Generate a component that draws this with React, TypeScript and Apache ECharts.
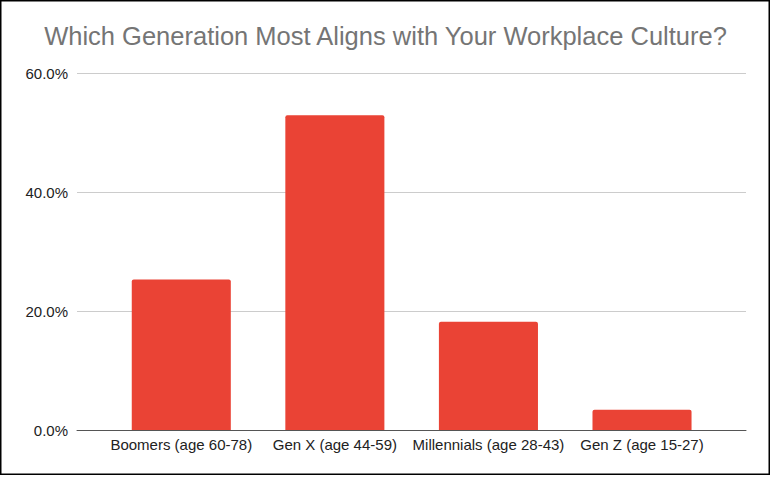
import React, { useEffect, useRef } from "react";
import * as echarts from "echarts";

const titleText = "Which Generation Most Aligns with Your Workplace Culture?";
const categories = [
  "Boomers (age 60-78)",
  "Gen X (age 44-59)",
  "Millennials (age 28-43)",
  "Gen Z (age 15-27)",
];
const shares = [0.253, 0.529, 0.182, 0.034];
const yMin = 0;
const yMax = 0.6;
const yInterval = 0.2;

const FONT = "'Liberation Sans', Arial, sans-serif";

export default function App() {
  const ref = useRef<HTMLDivElement>(null);
  useEffect(() => {
    if (!ref.current) return;
    const chart = echarts.init(ref.current, undefined, { renderer: "svg" });
    chart.setOption({
      animation: false,
      backgroundColor: "#ffffff",
      title: {
        text: titleText,
        left: "center",
        top: 18,
        textStyle: {
          fontFamily: FONT,
          fontSize: 25.5,
          fontWeight: "normal",
          color: "#757575",
        },
      },
      graphic: [
        {
          type: "rect",
          shape: { x: 0.75, y: 0.75, width: 768.5, height: 473.5 },
          style: { fill: "none", stroke: "#000000", lineWidth: 1.5 },
          silent: true,
          z: 100,
        },
      ],
      grid: [
        { left: 77, right: 25, top: 73, bottom: 47 },
        { left: 104.5, right: 52.2, top: 73, bottom: 47 },
      ],
      xAxis: [
        {
          type: "category",
          gridIndex: 0,
          data: categories,
          axisLabel: { show: false },
          axisTick: { show: false },
          axisLine: { show: true, lineStyle: { color: "#555555", width: 1 } },
          z: 5,
        },
        {
          type: "category",
          gridIndex: 1,
          data: categories,
          axisTick: { show: false },
          axisLine: { show: false },
          axisLabel: {
            margin: 7,
            fontFamily: FONT,
            fontSize: 15,
            color: "#222222",
            interval: 0,
          },
        },
      ],
      yAxis: [
        {
          type: "value",
          gridIndex: 0,
          min: yMin,
          max: yMax,
          interval: yInterval,
          axisLine: { show: false },
          axisTick: { show: false },
          splitLine: { lineStyle: { color: "#cccccc", width: 1 } },
          axisLabel: {
            margin: 9,
            fontFamily: FONT,
            fontSize: 15,
            color: "#222222",
            formatter: (v: number) => (v * 100).toFixed(1) + "%",
          },
        },
        {
          type: "value",
          gridIndex: 1,
          min: yMin,
          max: yMax,
          interval: yInterval,
          show: false,
          splitLine: { show: false },
        },
      ],
      series: [
        {
          type: "bar",
          xAxisIndex: 1,
          yAxisIndex: 1,
          data: shares,
          barWidth: "64.5%",
          itemStyle: { color: "#EA4335", borderRadius: [2, 2, 0, 0] },
        },
      ],
    });
    return () => chart.dispose();
  }, []);
  return (
    <div
      ref={ref}
      style={{ position: "fixed", left: 0, top: 0, width: 771, height: 477 }}
    />
  );
}
